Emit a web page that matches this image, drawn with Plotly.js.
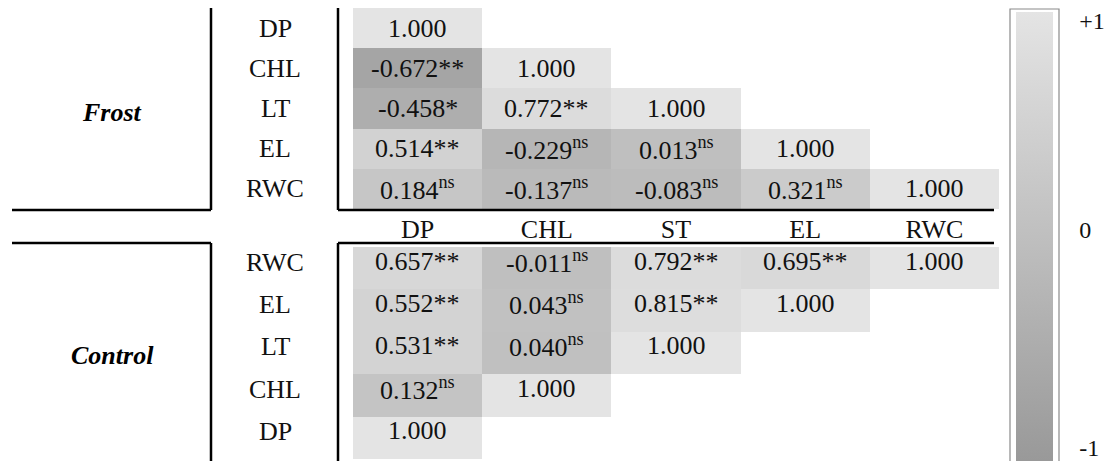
<!DOCTYPE html>
<html>
<head>
<meta charset="utf-8">
<script src="https://cdn.plot.ly/plotly-3.0.1.min.js"></script>
<style>html,body{margin:0;padding:0;background:#fff;}#chart{width:1110px;height:461px;}</style>
</head>
<body>
<div id="chart"></div>
<script>
// ---- data ----
const columns = ['DP', 'CHL', 'ST', 'EL', 'RWC'];
const frostRows = ['DP', 'CHL', 'LT', 'EL', 'RWC'];
const frostR = [
  [1.000],
  [-0.672, 1.000],
  [-0.458, 0.772, 1.000],
  [0.514, -0.229, 0.013, 1.000],
  [0.184, -0.137, -0.083, 0.321, 1.000]
];
const frostSig = [
  [''],
  ['**', ''],
  ['*', '**', ''],
  ['**', 'ns', 'ns', ''],
  ['ns', 'ns', 'ns', 'ns', '']
];
const controlRows = ['RWC', 'EL', 'LT', 'CHL', 'DP'];
const controlR = [
  [0.657, -0.011, 0.792, 0.695, 1.000],
  [0.552, 0.043, 0.815, 1.000],
  [0.531, 0.040, 1.000],
  [0.132, 1.000],
  [1.000]
];
const controlSig = [
  ['**', 'ns', '**', '**', ''],
  ['**', 'ns', '**', ''],
  ['**', 'ns', ''],
  ['ns', ''],
  ['']
];
const groupNames = ['Frost', 'Control'];
const scaleTickText = ['-1', '0', '+1'];

// ---- helpers ----
const W = 1110, H = 461;
const px = x => x / W;
const py = y => 1 - y / H;
const SERIF = 'Liberation Serif';

function pad(mat) {
  return mat.map(r => columns.map((c, j) => (j < r.length ? r[j] : null)));
}
function label(v, s) {
  return v.toFixed(3) + (s === 'ns' ? '<sup>ns</sup>' : s);
}

const traces = [
  {
    type: 'heatmap', x: columns, y: frostRows, z: pad(frostR),
    coloraxis: 'coloraxis', xaxis: 'x', yaxis: 'y', hoverongaps: false
  },
  {
    type: 'heatmap', x: columns, y: controlRows, z: pad(controlR),
    coloraxis: 'coloraxis', xaxis: 'x2', yaxis: 'y2', hoverongaps: false
  }
];

// inset tick positions so labels sit inside the bar ends like the reference
const cbTickPos = [-0.94, 0.03, 0.96];

const line = (x0, y0, x1, y1) => ({
  type: 'line', xref: 'paper', yref: 'paper',
  x0: px(x0), y0: py(y0), x1: px(x1), y1: py(y1),
  line: {color: '#000', width: 2.5}
});

const shapes = [
  line(211, 8, 211, 210), line(12, 210, 211, 210),
  line(12, 243, 211, 243), line(211, 243, 211, 461),
  line(338, 8, 338, 210), line(338, 210, 994, 210),
  line(338, 243, 994, 243), line(338, 243, 338, 461),
  {type: 'rect', xref: 'paper', yref: 'paper',
   x0: px(1010), x1: px(1059), y0: py(466), y1: py(9),
   line: {color: '#8a8a8a', width: 1.2}, fillcolor: 'rgba(0,0,0,0)'}
];

const labelFont = {family: SERIF, size: 26, color: '#111'};
const annotations = [];

// cell value labels
frostR.forEach((r, i) => r.forEach((v, j) => annotations.push({
  text: label(v, frostSig[i][j]), xref: 'x', yref: 'y', x: columns[j], y: frostRows[i],
  xanchor: 'center', yanchor: 'middle', showarrow: false, font: labelFont
})));
controlR.forEach((r, i) => r.forEach((v, j) => annotations.push({
  text: label(v, controlSig[i][j]), xref: 'x2', yref: 'y2', x: columns[j], y: controlRows[i],
  xanchor: 'center', yanchor: 'middle', yshift: 7, showarrow: false, font: labelFont
})));

// row labels
frostRows.forEach(r => annotations.push({
  text: r, xref: 'paper', yref: 'y', x: px(275), y: r, xanchor: 'center', yanchor: 'middle',
  showarrow: false, font: labelFont
}));
controlRows.forEach(r => annotations.push({
  text: r, xref: 'paper', yref: 'y2', x: px(275), y: r, xanchor: 'center', yanchor: 'middle',
  yshift: 6, showarrow: false, font: labelFont
}));
annotations.push({
  text: '<b><i>' + groupNames[0] + '</i></b>', xref: 'paper', yref: 'paper',
  x: px(112), y: py(112), xanchor: 'center', yanchor: 'middle',
  showarrow: false, font: {family: SERIF, size: 26, color: '#000'}
});
annotations.push({
  text: '<b><i>' + groupNames[1] + '</i></b>', xref: 'paper', yref: 'paper',
  x: px(112), y: py(355), xanchor: 'center', yanchor: 'middle',
  showarrow: false, font: {family: SERIF, size: 26, color: '#000'}
});

const layout = {
  width: W, height: H,
  margin: {l: 0, r: 0, t: 0, b: 0},
  paper_bgcolor: '#fff', plot_bgcolor: '#fff',
  showlegend: false,
  font: {family: SERIF, size: 26, color: '#111'},
  xaxis: {
    domain: [px(353), px(999)], type: 'category', categoryarray: columns,
    range: [-0.5, 4.5], showgrid: false, zeroline: false, showline: false,
    ticks: '', tickfont: {family: SERIF, size: 26, color: '#111'}, anchor: 'y',
    ticklabelstandoff: 2, fixedrange: true
  },
  yaxis: {
    domain: [py(209), py(8)], type: 'category', autorange: 'reversed',
    showgrid: false, zeroline: false, showticklabels: false, ticks: '', anchor: 'x',
    fixedrange: true
  },
  xaxis2: {
    domain: [px(353), px(999)], type: 'category', categoryarray: columns,
    range: [-0.5, 4.5], showgrid: false, zeroline: false, showticklabels: false,
    ticks: '', anchor: 'y2', fixedrange: true
  },
  yaxis2: {
    domain: [0, py(247)], type: 'category', autorange: 'reversed',
    showgrid: false, zeroline: false, showticklabels: false, ticks: '', anchor: 'x2',
    fixedrange: true
  },
  coloraxis: {
    cmin: -1, cmax: 1,
    colorscale: [[0, '#999999'], [0.5, '#bfbfbf'], [1, '#e4e4e4']],
    colorbar: {
      x: px(1016), xanchor: 'left', xpad: 0,
      y: py(461), yanchor: 'bottom', ypad: 0,
      len: (461 - 12) / H, lenmode: 'fraction',
      thickness: 37, thicknessmode: 'pixels',
      outlinewidth: 0,
      tickmode: 'array', tickvals: cbTickPos, ticktext: scaleTickText,
      ticks: 'outside', ticklen: 22, tickcolor: 'rgba(0,0,0,0)',
      tickfont: {family: SERIF, size: 24, color: '#111'}
    }
  },
  shapes: shapes,
  annotations: annotations
};

Plotly.newPlot('chart', traces, layout, {displayModeBar: false, staticPlot: true});
</script>
</body>
</html>
